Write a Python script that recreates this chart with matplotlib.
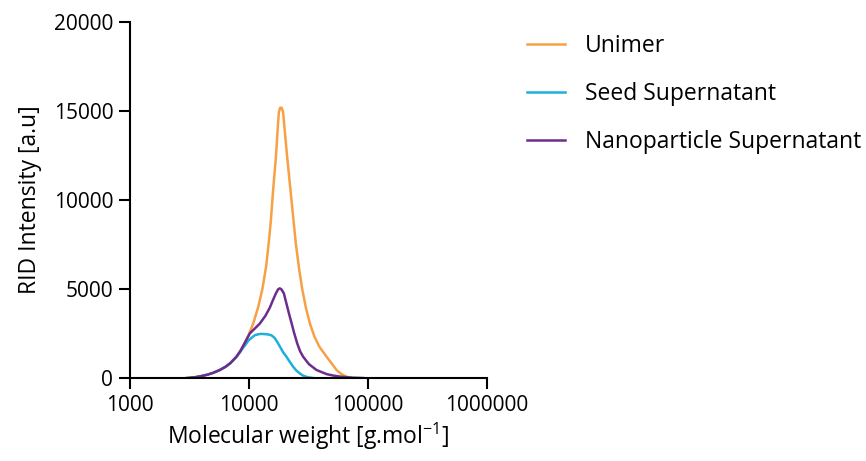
import numpy as np
import matplotlib
matplotlib.use('Agg')
import matplotlib.pyplot as plt

plt.rcParams['font.family'] = ['Open Sans', 'DejaVu Sans']

# values
unimer_mw = [3000, 3500, 4000, 4500, 5000, 5700, 6400, 7000, 7880, 8500, 9250, 10000, 10900,
             12000, 13000, 14000, 14700, 15300, 16000, 16900, 17600, 17900, 18300, 18600,
             18900, 19400, 19800, 21000, 22400, 24800, 26500, 28200, 30300, 32600, 35500,
             39000, 45000, 50000, 54600, 60000, 66000, 72000]
unimer_ri = [0, 40, 110, 190, 290, 450, 640, 840, 1200, 1550, 1950, 2450, 3070,
             4000, 5000, 6300, 7600, 8800, 10560, 12430, 14300, 14950, 15180, 15200,
             15180, 14950, 14300, 12430, 10560, 7600, 6100, 4950, 3900, 3070, 2350,
             1780, 1200, 800, 450, 220, 80, 0]

seed_mw = [3200, 3600, 4000, 4500, 5000, 5700, 6400, 7000, 7880, 8500, 9000, 10000, 11200,
           12000, 12700, 13500, 14500, 15500, 16500, 17500, 18500, 19500, 20700, 22000,
           23500, 25000, 26800, 28500, 31000, 34800]
seed_ri = [0, 50, 110, 190, 290, 450, 640, 840, 1200, 1480, 1720, 2130, 2400,
           2460, 2480, 2470, 2450, 2400, 2250, 1980, 1700, 1430, 1200, 930,
           650, 430, 260, 140, 50, 0]

nano_mw = [3000, 3500, 4000, 4500, 5000, 5700, 6400, 7000, 7880, 8500, 9250, 10200, 11300,
           12400, 13800, 15000, 16000, 16900, 17600, 18200, 18800, 19700, 20500, 21700,
           22900, 24000, 25500, 27000, 28600, 32000, 37100, 45000, 52000, 60000, 75000, 91000]
nano_ri = [0, 40, 110, 190, 290, 450, 640, 840, 1200, 1520, 1980, 2510, 2800,
           3070, 3500, 3950, 4400, 4760, 4980, 5040, 4980, 4760, 4300, 3650,
           3070, 2550, 1950, 1500, 1200, 780, 450, 220, 130, 70, 20, 0]

labels = ["Unimer", "Seed Supernatant", "Nanoparticle Supernatant"]
colors = ["#F7A045", "#1EB0DA", "#6B2D8F"]

fig = plt.figure(figsize=(8.66, 4.61), dpi=100)
ax = fig.add_axes([0.150, 0.180, 0.412, 0.772])

ax.plot(unimer_mw, unimer_ri, color=colors[0], lw=1.8, label=labels[0])
ax.plot(seed_mw, seed_ri, color=colors[1], lw=1.8, label=labels[1])
ax.plot(nano_mw, nano_ri, color=colors[2], lw=1.8, label=labels[2])

ax.set_xscale('log')
ax.set_xlim(1000, 1000000)
ax.set_ylim(0, 20000)
ax.set_xticks([1000, 10000, 100000, 1000000])
ax.set_xticklabels(["1000", "10000", "100000", "1000000"])
ax.xaxis.set_minor_locator(matplotlib.ticker.NullLocator())
ax.set_yticks([0, 5000, 10000, 15000, 20000])
ax.set_yticklabels(["0", "5000", "10000", "15000", "20000"])

for s in ['top', 'right']:
    ax.spines[s].set_visible(False)
for s in ['left', 'bottom']:
    ax.spines[s].set_linewidth(1.5)
ax.tick_params(width=1.5, length=8, labelsize=15, direction='out', pad=4)

ax.set_xlabel("Molecular weight [g.mol$^{\\mathregular{-1}}$]", fontsize=16.5, labelpad=4)
ax.set_ylabel("RID Intensity [a.u]", fontsize=16.5, labelpad=8)

fig.legend(loc='upper left', bbox_to_anchor=(0.585, 0.972), frameon=False, fontsize=16.5,
           handlelength=1.66, handletextpad=0.87, labelspacing=1.05)

fig.savefig("out.png", dpi=100)
